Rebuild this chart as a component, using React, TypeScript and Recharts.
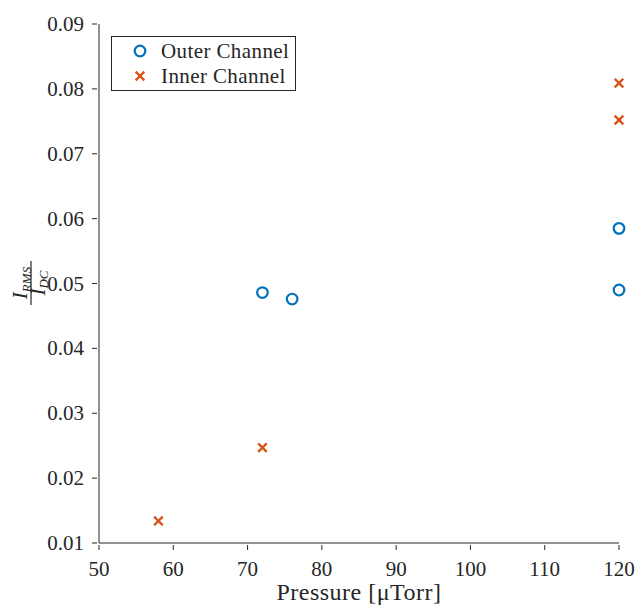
import { ScatterChart, Scatter, XAxis, YAxis } from "recharts";

const outerPressure = [72, 76, 120, 120];
const outerRatio = [0.0486, 0.0476, 0.0585, 0.049];
const innerPressure = [58, 72, 120, 120];
const innerRatio = [0.0134, 0.0247, 0.0809, 0.0752];

const xTicks = [50, 60, 70, 80, 90, 100, 110, 120];
const yTicks = [0.01, 0.02, 0.03, 0.04, 0.05, 0.06, 0.07, 0.08, 0.09];
const seriesNames = ["Outer Channel", "Inner Channel"];

const outerData = outerPressure.map((p, i) => ({ p, r: outerRatio[i] }));
const innerData = innerPressure.map((p, i) => ({ p, r: innerRatio[i] }));

const FONT = "Liberation Serif";
const AXIS = "#262626";
const BLUE = "#0072BD";
const ORANGE = "#D95319";

const Ring = (props: any) => (
    <circle cx={props.cx} cy={props.cy} r={5.3} fill="none" stroke={BLUE} strokeWidth={2.2} />
);

const Cross = (props: any) => {
    const { cx, cy } = props;
    const s = 4.3;
    return (
        <g stroke={ORANGE} strokeWidth={2.4}>
            <line x1={cx - s} y1={cy - s} x2={cx + s} y2={cy + s} />
            <line x1={cx - s} y1={cy + s} x2={cx + s} y2={cy - s} />
        </g>
    );
};

const XTick = (props: any) => {
    const { x, y, payload } = props;
    return (
        <g>
            <line x1={x} y1={y - 6} x2={x} y2={y - 1} stroke={AXIS} />
            <text x={x} y={y + 25} textAnchor="middle" style={{ fontFamily: FONT, fontSize: 21 }} fill={AXIS}>
                {payload.value}
            </text>
        </g>
    );
};

const YTick = (props: any) => {
    const { x, y, payload } = props;
    return (
        <g>
            <line x1={x + 1} y1={y} x2={x + 6} y2={y} stroke={AXIS} />
            <text x={x - 7} y={y + 7} textAnchor="end" style={{ fontFamily: FONT, fontSize: 21 }} fill={AXIS}>
                {Number(payload.value).toFixed(2)}
            </text>
        </g>
    );
};

const YLabel = () => (
    <g transform="translate(31,283) rotate(-90)" style={{ fontFamily: FONT, fontStyle: "italic" }} fill={AXIS}>
        <text x={0} y={-4} textAnchor="middle" fontSize={21}>
            I
            <tspan fontSize={13} dy={4}>RMS</tspan>
        </text>
        <line x1={-22} y1={0} x2={22} y2={0} stroke={AXIS} strokeWidth={1.2} />
        <text x={0} y={14} textAnchor="middle" fontSize={21}>
            I
            <tspan fontSize={13} dy={3}>DC</tspan>
        </text>
    </g>
);

const LegendBox = () => (
    <div
        style={{
            position: "absolute",
            left: 111,
            top: 36,
            width: 185,
            height: 55,
            border: "1px solid #262626",
            background: "#fff",
            boxSizing: "border-box",
            fontFamily: FONT,
            fontSize: 21,
            letterSpacing: 0.4,
            color: AXIS,
        }}
    >
        <svg width={45} height={55} style={{ position: "absolute", left: 0, top: 0 }}>
            <Ring cx={28} cy={14} />
            <Cross cx={28} cy={39} />
        </svg>
        <div style={{ position: "absolute", left: 49, top: 1, lineHeight: "26px" }}>{seriesNames[0]}</div>
        <div style={{ position: "absolute", left: 49, top: 26, lineHeight: "26px" }}>{seriesNames[1]}</div>
    </div>
);

export default function App() {
    return (
        <div style={{ position: "absolute", left: 0, top: 0, width: 644, height: 606, background: "#fff" }}>
            <ScatterChart width={644} height={606} margin={{ top: 24, right: 25, left: 0, bottom: 0 }}>
                <XAxis
                    type="number"
                    dataKey="p"
                    domain={[50, 120]}
                    ticks={xTicks}
                    interval={0}
                    height={63}
                    stroke={AXIS}
                    tickLine={false}
                    tick={<XTick />}
                    label={{
                        value: "Pressure [μTorr]",
                        position: "insideBottom",
                        offset: 6,
                        style: { fontFamily: FONT, fontSize: 24, letterSpacing: 0.5 },
                        fill: AXIS,
                    }}
                />
                <YAxis
                    type="number"
                    dataKey="r"
                    domain={[0.01, 0.09]}
                    ticks={yTicks}
                    interval={0}
                    width={99}
                    stroke={AXIS}
                    tickLine={false}
                    tick={<YTick />}
                    label={<YLabel />}
                />
                <Scatter name={seriesNames[0]} data={outerData} shape={<Ring />} isAnimationActive={false} />
                <Scatter name={seriesNames[1]} data={innerData} shape={<Cross />} isAnimationActive={false} />
            </ScatterChart>
            <LegendBox />
        </div>
    );
}
